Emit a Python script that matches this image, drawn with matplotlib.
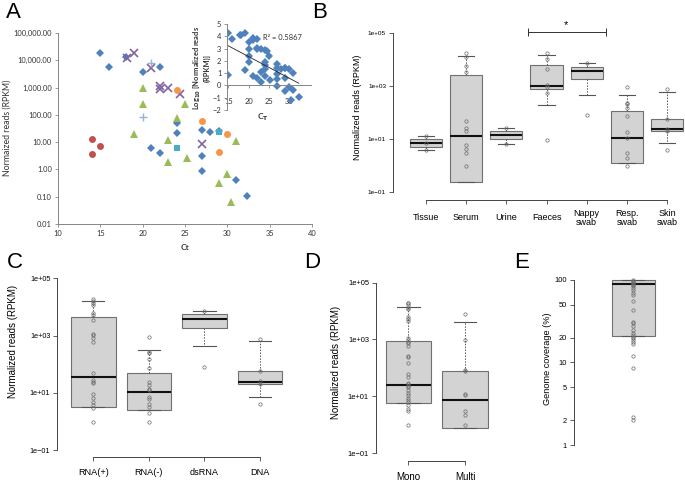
import numpy as np
import matplotlib.pyplot as plt
from matplotlib import transforms
from matplotlib.ticker import FuncFormatter, NullLocator, FixedLocator

plt.rcParams['font.family'] = 'Liberation Sans'

# ---------------- data ----------------
# panel A: Ct vs normalized reads, one list pair per marker series
blue_ct = [15, 16, 18, 20, 22, 21, 22, 24, 24, 27, 28, 29, 27, 27, 31, 32.3]
blue_rpkm = [18500, 5600, 13000, 3700, 5600, 6, 3.9, 50, 21, 27, 23, 26, 3.1, 0.9, 0.41, 0.11]
purple_ct = [18.2, 19, 21, 22, 22, 23, 24.4, 27]
purple_rpkm = [12000, 18000, 5000, 1170, 870, 950, 590, 8.7]
plus_ct = [21, 20]
plus_rpkm = [7900, 87]
orange_ct = [24, 27, 30, 29]
orange_rpkm = [790, 60, 20, 4.3]
teal_ct = [24, 29]
teal_rpkm = [6.3, 24]
red_ct = [14, 14, 15]
red_rpkm = [13.5, 3.8, 7.1]
green_ct = [20, 20, 25, 24, 19, 23, 31, 23, 25.2, 30, 29, 30.4]
green_rpkm = [950, 245, 250, 76, 19.5, 12, 10.7, 1.8, 2.6, 0.68, 0.33, 0.066]

# panel B: sample types
b_labels = ['Tissue', 'Serum', 'Urine', 'Faeces', 'Nappy\nswab', 'Resp.\nswab', 'Skin\nswab']
b_q1 = [5, 0.24, 10.2, 770, 1900, 1.23, 19.5]
b_med = [7, 13, 14.5, 1000, 3800, 11, 24]
b_q3 = [10, 2700, 19.5, 6200, 5500, 120, 57]
b_lo = [4, 0.24, 6.6, 200, 450, 1.23, 7.4]
b_hi = [12.6, 14000, 26, 15000, 7400, 480, 630]
b_points = [
    [12.6, 7, 4],
    [18500, 13000, 5900, 3500, 48, 26, 21, 5.9, 4.2, 3.1, 1.0],
    [26, 6.6],
    [17600, 11000, 4600, 1100, 900, 550, 9],
    [7400, 81],
    [950, 240, 215, 148, 76, 18, 11, 3.0, 1.9, 0.98],
    [780, 57, 24, 19.5, 4],
]

# panel C: genome type
c_labels = ['RNA(+)', 'RNA(-)', 'dsRNA', 'DNA']
c_q1 = [3.3, 2.5, 1900, 20]
c_med = [37, 11, 3700, 25]
c_q3 = [4360, 49, 5500, 58]
c_lo = [3.3, 2.5, 450, 7.4]
c_hi = [15800, 316, 7100, 630]
c_points = [
    [18600, 16600, 14100, 12000, 6000, 5250, 3550, 1150, 1020, 850, 590,
     49, 28, 24, 22, 9.1, 6.5, 5.0, 3.8, 3.1, 1.0],
    [910, 275, 240, 148, 74, 24, 19.5, 14, 12.3, 7.2, 6, 4.2, 3.3, 2.0, 1.0],
    [7300, 83],
    [760, 59, 26, 20, 4],
]

# panel D: mono vs multi infection
d_labels = ['Mono', 'Multi']
d_q1 = [5.6, 0.74]
d_med = [24.5, 7.2]
d_q3 = [910, 80]
d_lo = [5.6, 0.74]
d_hi = [13500, 4000]
d_points = [
    [20000, 18700, 16300, 13200, 11500, 6000, 5100, 4300, 1100, 960, 830, 730, 590,
     260, 235, 145, 60, 49, 29, 26, 23, 20.5, 16.5, 13.4, 11, 9, 7.4, 6.1, 4.9,
     3.5, 2.9, 1.0],
    [7900, 980, 87, 80, 12, 10.7, 3.1, 2.1, 1.0],
]

# panel E: genome coverage
e_q1, e_med, e_q3 = 21, 90, 100
e_points = [100, 98, 95.5, 93, 90, 88, 85, 79, 76, 69, 66, 55, 43, 31, 30, 28, 25,
            23, 21.5, 20.5, 19.6, 18.7, 17.9, 16.7, 12, 8.5, 2.2, 2.0]

# ---------------- layout helpers ----------------
W, H = 685, 482
fig = plt.figure(figsize=(W / 100, H / 100), dpi=100)


def box_axes(x0, y0, x1, y1):
    return fig.add_axes([x0 / W, 1 - y1 / H, (x1 - x0) / W, (y1 - y0) / H])


def ftext(x, y, s, **kw):
    return fig.text(x / W, 1 - y / H, s, **kw)


for letter, x, y in [('A', 13, 12), ('B', 320, 12), ('C', 15, 262), ('D', 312, 262), ('E', 522, 262)]:
    ftext(x, y, letter, fontsize=16, ha='center', va='center')

# ---------------- panel A ----------------
xl_grey = '#868686'
axA = box_axes(58, 33, 312, 224)
series = [
    (blue_ct, blue_rpkm, 'D', '#4F81BD', 4.2, 0),
    (purple_ct, purple_rpkm, 'x', '#8064A2', 5.5, 1.2),
    (plus_ct, plus_rpkm, '+', '#95B3D7', 6, 1.0),
    (orange_ct, orange_rpkm, 'o', '#F79646', 5, 0),
    (teal_ct, teal_rpkm, 's', '#4BACC6', 5, 0),
    (red_ct, red_rpkm, 'o', '#C0504D', 5, 0),
    (green_ct, green_rpkm, '^', '#9BBB59', 5.2, 0),
]
for ct, vals, mk, col, ms, mew in series:
    axA.plot(ct, vals, ls='none', marker=mk, ms=ms, color=col, mew=mew)
axA.set_yscale('log')
axA.set_xlim(10, 40)
axA.set_ylim(0.01, 1e5)
axA.set_xticks(range(10, 41, 5))
axA.set_yticks([10.0 ** k for k in range(-2, 6)])
axA.yaxis.set_minor_locator(NullLocator())
axA.yaxis.set_major_formatter(FuncFormatter(lambda v, p: f'{v:,.2f}'))
for s in ['top', 'right']:
    axA.spines[s].set_visible(False)
for s in ['left', 'bottom']:
    axA.spines[s].set_color(xl_grey)
    axA.spines[s].set_linewidth(0.7)
axA.tick_params(length=2.5, width=0.6, color=xl_grey, labelsize=5.4, pad=2, labelcolor='#333333')
for lab in axA.get_xticklabels() + axA.get_yticklabels():
    lab.set_fontfamily('Lato')
ftext(7, 128, 'Normaized reads (RPKM)', rotation=90, ha='center', va='center',
      fontsize=6.3, family='Lato', color='#333333')
ftext(185, 248, 'Ct', ha='center', va='center', fontsize=6, family='Lato',
      weight='bold', color='#333333')

# inset: log10 of the same points vs Ct
all_ct = np.array(sum([s[0] for s in series], []), dtype=float)
all_log = np.log10(np.array(sum([s[1] for s in series], []), dtype=float))
axI = box_axes(227, 24, 311, 110)
axI.patch.set_alpha(0)
axI.plot(all_ct, all_log, ls='none', marker='D', ms=3.6, color='#4F81BD', mew=0)
fit = np.polyfit(all_ct, all_log, 1)
xs = np.array([all_ct.min(), all_ct.max()])
axI.plot(xs, np.polyval(fit, xs), color='#222222', lw=0.6)
axI.set_xlim(14.7, 35.3)
axI.set_ylim(-2, 5)
axI.set_xticks([15, 20, 25, 30])
axI.set_yticks(range(-2, 6))
axI.spines['bottom'].set_position(('data', 0))
for s in ['top', 'right']:
    axI.spines[s].set_visible(False)
for s in ['left', 'bottom']:
    axI.spines[s].set_color(xl_grey)
    axI.spines[s].set_linewidth(0.7)
axI.tick_params(length=2, width=0.6, color=xl_grey, labelsize=5.4, pad=2, labelcolor='#333333')
axI.tick_params(axis='x', pad=7)
for lab in axI.get_xticklabels() + axI.get_yticklabels():
    lab.set_fontfamily('Lato')
ftext(263, 38, 'R² = 0.5867', ha='left', va='center', fontsize=5.4, family='Lato', color='#333333')
ftext(201, 68, 'Log$_{\\mathbf{10}}$ [Normalized reads\n(RPKM)]', rotation=90, ha='center',
      va='center', fontsize=5.4, family='Lato', weight='bold', color='#333333',
      multialignment='center', linespacing=1.1)
ftext(263, 117, 'C$_{\\mathbf{T}}$', ha='center', va='center', fontsize=6, family='Lato',
      weight='bold', color='#333333')

# ---------------- R style boxplots ----------------
r_axis = '#444444'


def r_panel(box, xlim, ylim, q1, med, q3, lo, hi, points, labels, label_y,
            yticks, yticklabels, tick_fs, lab_fs, ylabel, ylabel_xy, ylabel_fs,
            bottom_axis=True, width=0.8):
    ax = box_axes(*box)
    ax.set_yscale('log')
    n = len(med)
    pos = np.arange(1, n + 1)
    stats = [dict(q1=q1[i], med=med[i], q3=q3[i], whislo=lo[i], whishi=hi[i]) for i in range(n)]
    ax.bxp(stats, positions=pos, widths=width, patch_artist=True, showfliers=False,
           boxprops=dict(facecolor='#D3D3D3', edgecolor='#707070', lw=0.8),
           medianprops=dict(color='#111111', lw=1.5),
           whiskerprops=dict(color='#555555', lw=0.7, ls=(0, (1.5, 1.5))),
           capprops=dict(color='#555555', lw=0.8))
    for p, pts in zip(pos, points):
        ax.plot([p] * len(pts), pts, ls='none', marker='o', ms=2.4, mfc='none',
                mec='#6a6a6a', mew=0.5, zorder=5)
    ax.set_xlim(*xlim)
    ax.set_ylim(*ylim)
    for s in ['top', 'right']:
        ax.spines[s].set_visible(False)
    ax.spines['left'].set_bounds(yticks[0], yticks[-1])
    ax.spines['left'].set_color(r_axis)
    ax.spines['left'].set_linewidth(0.7)
    ax.yaxis.set_major_locator(FixedLocator(yticks))
    ax.yaxis.set_minor_locator(NullLocator())
    ax.set_yticklabels(yticklabels)
    ax.tick_params(axis='y', length=3, width=0.6, color=r_axis, labelsize=tick_fs, pad=2)
    if bottom_axis:
        ax.spines['bottom'].set_bounds(1, n)
        ax.spines['bottom'].set_color(r_axis)
        ax.spines['bottom'].set_linewidth(0.7)
        ax.set_xticks(pos)
        ax.set_xticklabels([''] * n)
        ax.tick_params(axis='x', length=3, width=0.6, color=r_axis)
        tr = transforms.blended_transform_factory(ax.transData, fig.transFigure)
        for p, lab in zip(pos, labels):
            ax.text(p, 1 - label_y / H, lab, transform=tr, ha='center', va='center',
                    fontsize=lab_fs, linespacing=1.05)
    else:
        ax.spines['bottom'].set_visible(False)
        ax.set_xticks([])
    ftext(ylabel_xy[0], ylabel_xy[1], ylabel, rotation=90, ha='center', va='center',
          fontsize=ylabel_fs)
    return ax


rticks = [0.1, 10, 1000, 1e5]
rlabels = ['1e\u221201', '1e+01', '1e+03', '1e+05']

axB = r_panel((393, 20, 685, 200), (0.178, 7.448), (10 ** -1.302, 10 ** 5.503),
              b_q1, b_med, b_q3, b_lo, b_hi, b_points, b_labels, 218,
              rticks, rlabels, 4.6, 6.5, 'Normalized reads (RPKM)', (357, 107), 6.5)
# significance bracket between Faeces and Nappy swab
axB.plot([3.54, 5.49], [10 ** 5.04] * 2, color='#333333', lw=0.7, clip_on=False)
axB.vlines([3.54, 5.49], 10 ** 4.9, 10 ** 5.19, color='#333333', lw=0.7, clip_on=False)
axB.text(4.49, 10 ** 5.31, '*', ha='center', va='center', fontsize=8)

r_panel((57.3, 265, 300, 456.7), (0.353, 4.718), (10 ** -1.223, 10 ** 5.464),
        c_q1, c_med, c_q3, c_lo, c_hi, c_points, c_labels, 472.7,
        rticks, rlabels, 5.2, 6.6, 'Normalized reads (RPKM)', (13, 341), 7)

r_panel((376, 268, 505, 460.7), (0.430, 2.705), (10 ** -1.271, 10 ** 5.518),
        d_q1, d_med, d_q3, d_lo, d_hi, d_points, d_labels, 477.3,
        rticks, rlabels, 5.4, 7, 'Normalized reads (RPKM)', (336, 362), 7)

r_panel((574, 268, 685, 455), (-0.096, 1.956), (10 ** -0.121, 10 ** 2.145),
        [e_q1], [e_med], [e_q3], [e_q1], [e_q3], [e_points], [''], 0,
        [1, 2, 5, 10, 20, 50, 100], ['1', '2', '5', '10', '20', '50', '100'],
        5.4, 6.5, 'Genome coverage (%)', (547, 359), 6.6, bottom_axis=False)

fig.savefig('out.png', dpi=100)
